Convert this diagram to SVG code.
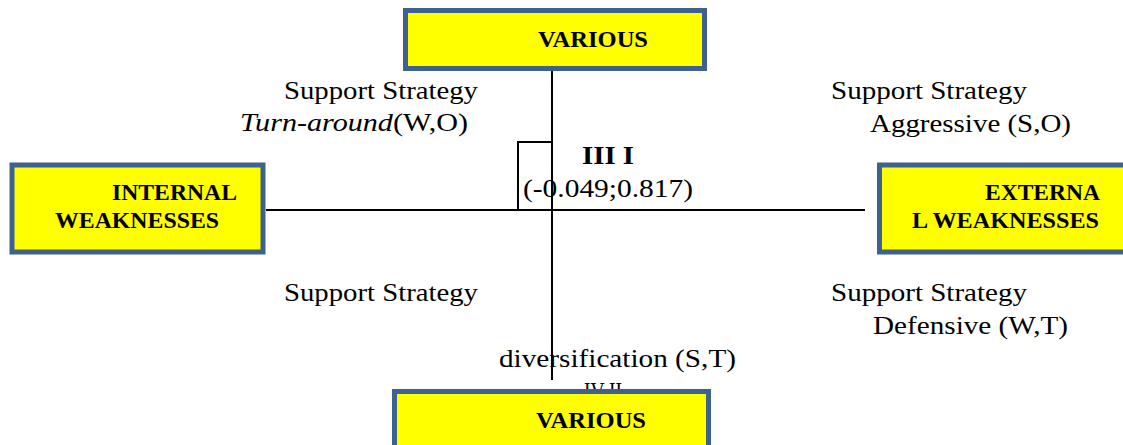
<svg xmlns="http://www.w3.org/2000/svg" width="1123" height="445" viewBox="0 0 1123 445">
<style>
.box{fill:#ffff00;stroke:#3e6190;stroke-width:5}
.bt{font-family:"Liberation Serif","Times New Roman",serif;font-weight:bold;font-size:23px;fill:#000}
.t{font-family:"Liberation Serif","Times New Roman",serif;font-size:26px;fill:#000}
.ln{stroke:#000;stroke-width:2;fill:none}
</style>
<rect width="1123" height="445" fill="#fff"/>
<g id="labels">
<text class="t" x="284" y="99" textLength="194" lengthAdjust="spacingAndGlyphs">Support Strategy</text>
<text class="t" x="240" y="131" textLength="228" lengthAdjust="spacingAndGlyphs"><tspan font-style="italic">Turn-around</tspan>(W,O)</text>
<text class="t" x="831" y="99" textLength="196" lengthAdjust="spacingAndGlyphs">Support Strategy</text>
<text class="t" x="870" y="132" textLength="201" lengthAdjust="spacingAndGlyphs">Aggressive (S,O)</text>
<text class="t" x="284" y="301" textLength="194" lengthAdjust="spacingAndGlyphs">Support Strategy</text>
<text class="t" x="831" y="301" textLength="196" lengthAdjust="spacingAndGlyphs">Support Strategy</text>
<text class="t" x="873" y="334" textLength="195" lengthAdjust="spacingAndGlyphs">Defensive (W,T)</text>
<text class="t" x="499" y="367" textLength="237" lengthAdjust="spacingAndGlyphs">diversification (S,T)</text>
<text class="bt" x="582" y="164" textLength="52" lengthAdjust="spacingAndGlyphs" style="font-size:26px">III I</text>
<text class="t" x="523" y="197" textLength="170" lengthAdjust="spacingAndGlyphs">(-0.049;0.817)</text>
<text class="t" x="584" y="400" textLength="38" lengthAdjust="spacingAndGlyphs">IV II</text>
</g>
<g id="connectors">
<line class="ln" x1="552" y1="71" x2="552" y2="380"/>
<line class="ln" x1="266" y1="210" x2="865" y2="210"/>
<polyline class="ln" points="518,210 518,142 552,142"/>
</g>
<g id="node-top">
<rect class="box" x="405.5" y="10.5" width="299" height="58"/>
<text class="bt" x="538" y="47" textLength="110" lengthAdjust="spacingAndGlyphs">VARIOUS</text>
</g>
<g id="node-left">
<rect class="box" x="12" y="165" width="251" height="87"/>
<text class="bt" x="112" y="200" textLength="125" lengthAdjust="spacingAndGlyphs">INTERNAL</text>
<text class="bt" x="55" y="228" textLength="164" lengthAdjust="spacingAndGlyphs">WEAKNESSES</text>
</g>
<g id="node-right">
<rect class="box" x="879.5" y="165" width="260" height="87"/>
<text class="bt" x="985" y="200" textLength="115" lengthAdjust="spacingAndGlyphs">EXTERNA</text>
<text class="bt" x="912" y="228" textLength="187" lengthAdjust="spacingAndGlyphs">L WEAKNESSES</text>
</g>
<g id="node-bottom">
<rect class="box" x="394.5" y="391.5" width="314" height="70"/>
<text class="bt" x="536" y="428" textLength="110" lengthAdjust="spacingAndGlyphs">VARIOUS</text>
</g>
</svg>
